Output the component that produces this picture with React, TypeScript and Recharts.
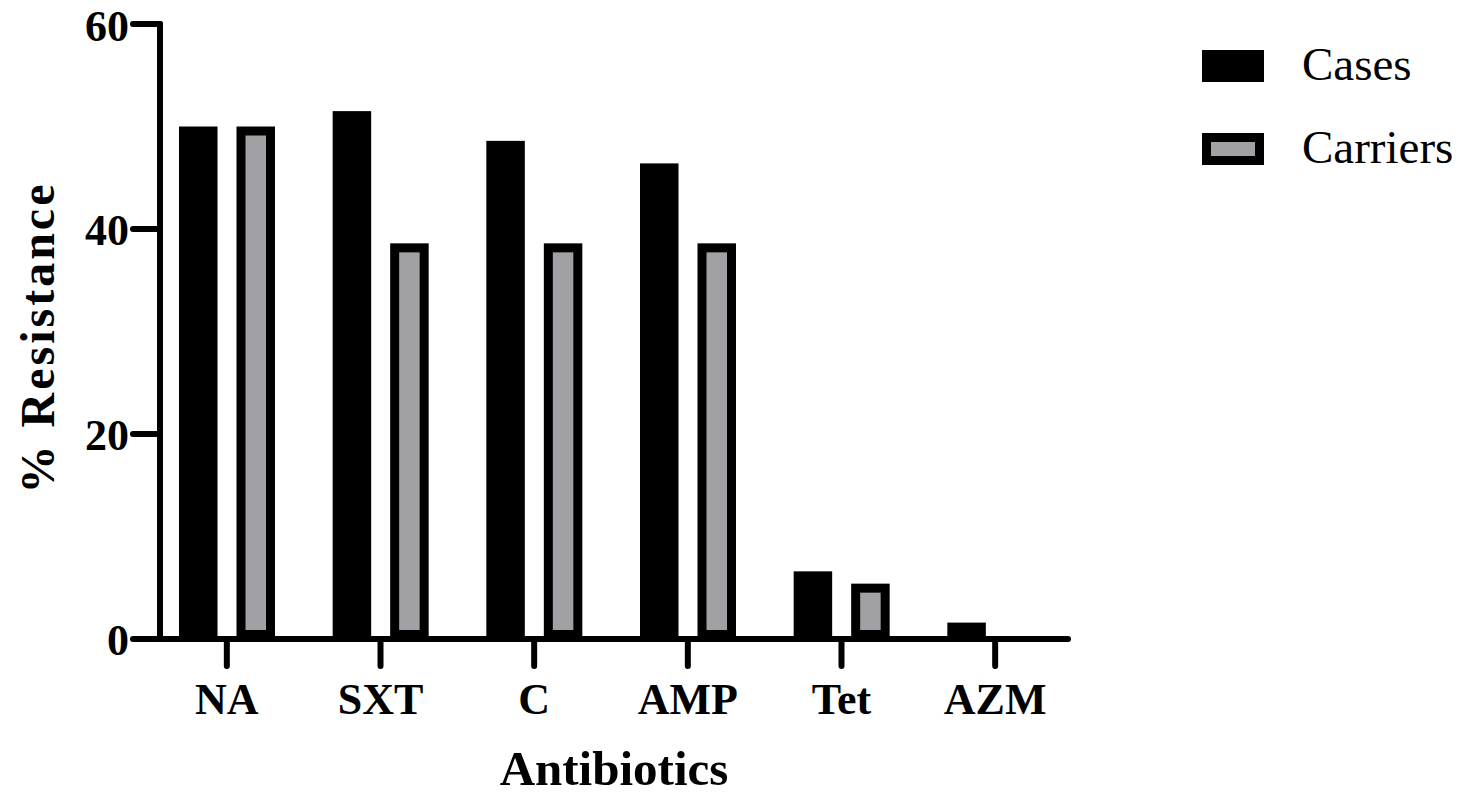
import React from 'react';
import { BarChart, Bar, XAxis, YAxis, Legend } from 'recharts';

const antibiotics = ['NA', 'SXT', 'C', 'AMP', 'Tet', 'AZM'];
const cases = [50, 51.5, 48.6, 46.4, 6.6, 1.6];
const carriers = [50, 38.6, 38.6, 38.6, 5.4, 0];
const yTicks = [0, 20, 40, 60];

const data = antibiotics.map((name, i) => ({ name, cases: cases[i], carriers: carriers[i] }));

const FONT = '"Liberation Serif", "Times New Roman", serif';
const BORDER = 9;
const GRAY = '#a1a1a5';

// bar with its black border drawn inside the bar outline (Prism style)
function InsetBar(props: any) {
  const { x, y, width, height, fill } = props;
  if (!height || height <= 0) return null;
  const h = BORDER / 2;
  return (
    <rect
      x={x + h}
      y={y + h}
      width={Math.max(width - BORDER, 0)}
      height={Math.max(height - BORDER, 0)}
      fill={fill}
      stroke="#000"
      strokeWidth={BORDER}
    />
  );
}

const legendItems = [
  { key: 'cases', label: 'Cases', fill: '#000' },
  { key: 'carriers', label: 'Carriers', fill: GRAY },
];

function LegendBox() {
  return (
    <div>
      {legendItems.map((item) => (
        <div key={item.key} style={{ display: 'flex', alignItems: 'center', height: 32, marginBottom: 51 }}>
          <svg width={62} height={32} style={{ display: 'block' }}>
            <rect x={4.5} y={4.5} width={53} height={23} fill={item.fill} stroke="#000" strokeWidth={9} />
          </svg>
          <span
            style={{
              marginLeft: 38,
              fontFamily: FONT,
              fontSize: 47,
              lineHeight: '47px',
              color: '#000',
              position: 'relative',
              top: -2,
              whiteSpace: 'nowrap',
            }}
          >
            {item.label}
          </span>
        </div>
      ))}
    </div>
  );
}

function YTitle(props: any) {
  const vb = props.viewBox;
  const cx = 37;
  const cy = vb.y + vb.height / 2 + 6;
  return (
    <text
      x={cx}
      y={cy}
      transform={`rotate(-90, ${cx}, ${cy})`}
      textAnchor="middle"
      dominantBaseline="central"
      fontFamily={FONT}
      fontWeight="bold"
      fontSize={48}
      letterSpacing={3}
      fill="#000"
    >
      % Resistance
    </text>
  );
}

const tickStyle = { fontFamily: FONT, fontWeight: 'bold', fontSize: 44, fill: '#000' };
const lineStyle = { stroke: '#000', strokeWidth: 6, strokeLinecap: 'round' as const };

export default function App() {
  return (
    <div>
      <style>{'body{margin:0}'}</style>
      <BarChart
        width={1468}
        height={795}
        data={data}
        margin={{ top: 24, right: 400, bottom: 0, left: 0 }}
        barSize={38.5}
        barGap={19}
      >
        <XAxis
          dataKey="name"
          height={156}
          padding={{ left: -10, right: -4 }}
          axisLine={lineStyle}
          tickLine={lineStyle}
          tickSize={27}
          tickMargin={17}
          tick={tickStyle}
          interval={0}
          label={{
            value: 'Antibiotics',
            position: 'insideBottom',
            offset: 10,
            style: { fontFamily: FONT, fontWeight: 'bold', fontSize: 49, fill: '#000' },
          }}
        />
        <YAxis
          width={160}
          domain={[0, 60]}
          ticks={yTicks}
          axisLine={lineStyle}
          tickLine={lineStyle}
          tickSize={27}
          tickMargin={4}
          tick={tickStyle}
          label={<YTitle />}
        />
        <Legend
          layout="vertical"
          align="center"
          verticalAlign="middle"
          wrapperStyle={{ left: 1202, top: 50, width: 266 }}
          content={() => <LegendBox />}
        />
        <Bar dataKey="cases" name="Cases" fill="#000" shape={<InsetBar />} isAnimationActive={false} />
        <Bar dataKey="carriers" name="Carriers" fill={GRAY} shape={<InsetBar />} isAnimationActive={false} />
      </BarChart>
    </div>
  );
}
